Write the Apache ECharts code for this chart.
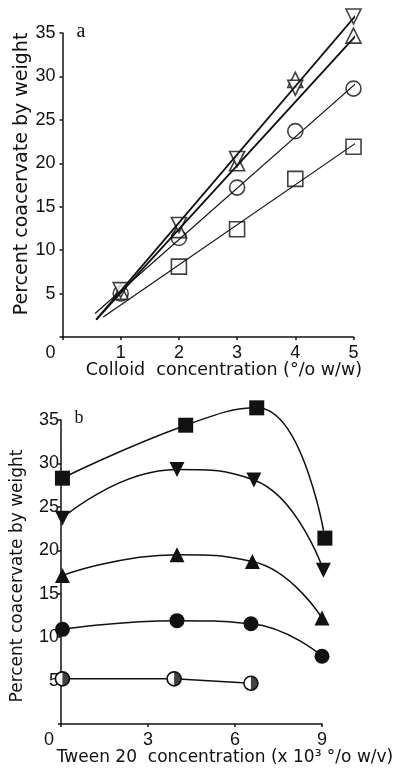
<!DOCTYPE html>
<html>
<head>
<meta charset="utf-8">
<script src="https://cdn.jsdelivr.net/npm/echarts@6/dist/echarts.min.js"></script>
<style>
  html, body { margin: 0; padding: 0; background: #fff; }
  #chart { width: 395px; height: 770px; }
</style>
</head>
<body>
<div id="chart"></div>
<script>
// --- panel a: colloid concentration (%w/w) vs percent coacervate ---
var colloidConc = [1, 2, 3, 4, 5];
var aDownTri = [5.4, 12.9, 20.5, 28.7, 36.9];
var aUpTri = [5.2, 12.3, 20.0, 29.6, 34.7];
var aCircle = [5.0, 11.4, 17.2, 23.7, 28.6];
var aSquare = [null, 8.1, 12.4, 18.2, 21.9];
// fitted straight lines, end points [x, y]
var fitDownTri = [[0.58, 2.0], [5.05, 37.1]];
var fitUpTri = [[0.58, 2.0], [5.11, 35.2]];
var fitCircle = [[0.56, 2.7], [5.23, 30.3]];
var fitSquare = [[0.70, 2.3], [5.25, 23.3]];

// --- panel b: Tween 20 concentration (x10^3 %w/v) ---
var bSquareX = [0.05, 4.3, 6.75, 9.1];
var bSquareY = [28.3, 34.4, 36.4, 21.4];
var bDownTriX = [0.05, 4.0, 6.65, 9.05];
var bDownTriY = [23.7, 29.3, 28.1, 17.7];
var bUpTriX = [0.05, 4.0, 6.6, 9.0];
var bUpTriY = [17.1, 19.5, 18.7, 12.2];
var bCircleX = [0.05, 4.0, 6.55, 9.0];
var bCircleY = [10.9, 11.9, 11.55, 7.8];
var bHalfX = [0.05, 3.9, 6.55];
var bHalfY = [5.2, 5.2, 4.7];

var ink = '#111';
var tickFont = 'Liberation Sans';

function pairs(xs, ys) {
  var out = [];
  for (var i = 0; i < xs.length; i++) {
    if (ys[i] != null) out.push([xs[i], ys[i]]);
  }
  return out;
}

function xAxisOf(grid, max, step) {
  return {
    type: 'value', gridIndex: grid, min: 0, max: max, interval: step,
    splitLine: { show: false },
    axisLine: { lineStyle: { color: ink, width: 1.5 } },
    axisTick: { length: 3, lineStyle: { color: ink, width: 1.5 } },
    axisLabel: {
      color: ink, fontFamily: tickFont, fontSize: 18, margin: 7,
      formatter: function (v) { return v === 0 ? '{o|0}' : String(v); },
      rich: { o: { padding: [0, 24, 0, 0], color: ink, fontFamily: tickFont, fontSize: 18 } }
    }
  };
}

function yAxisOf(grid, gap) {
  return {
    type: 'value', gridIndex: grid, min: 0, max: 35, interval: 5,
    splitLine: { show: false },
    axisLine: { lineStyle: { color: ink, width: 1.5 } },
    axisTick: { length: 3, lineStyle: { color: ink, width: 1.5 } },
    axisLabel: {
      color: ink, fontFamily: tickFont, fontSize: 18, margin: gap,
      formatter: function (v) { return v === 0 ? '' : String(v); }
    }
  };
}

function fitLine(data, w) {
  return {
    type: 'line', xAxisIndex: 0, yAxisIndex: 0, data: data,
    symbol: 'none', silent: true, clip: false,
    lineStyle: { color: ink, width: w }
  };
}

function openMarks(ys, sym, rot) {
  return {
    type: 'scatter', xAxisIndex: 0, yAxisIndex: 0, clip: false,
    data: pairs(colloidConc, ys),
    symbol: sym, symbolSize: 15, symbolRotate: rot || 0,
    itemStyle: { color: '#fff', borderColor: ink, borderWidth: 1.6 }
  };
}

function curve(xs, ys, sym, rot) {
  return {
    type: 'line', xAxisIndex: 1, yAxisIndex: 1, clip: false,
    data: pairs(xs, ys), smooth: 0.5,
    symbol: sym, symbolSize: 15, symbolRotate: rot || 0,
    itemStyle: { color: ink },
    lineStyle: { color: ink, width: 1.5 }
  };
}

var chart = echarts.init(document.getElementById('chart'));

var option = {
  animation: false,
  backgroundColor: '#fff',
  grid: [
    { left: 62.5, top: 33, width: 291, height: 304 },
    { left: 61, top: 420, width: 261, height: 304 }
  ],
  xAxis: [xAxisOf(0, 5, 1), xAxisOf(1, 9, 3)],
  yAxis: [yAxisOf(0, 7), yAxisOf(1, 2)],
  series: [
    fitLine(fitSquare, 1.2),
    fitLine(fitCircle, 1.2),
    fitLine(fitUpTri, 1.8),
    fitLine(fitDownTri, 1.8),
    openMarks(aSquare, 'rect'),
    openMarks(aCircle, 'circle'),
    openMarks(aUpTri, 'triangle'),
    openMarks(aDownTri, 'triangle', 180),

    curve(bSquareX, bSquareY, 'rect'),
    curve(bDownTriX, bDownTriY, 'triangle', 180),
    curve(bUpTriX, bUpTriY, 'triangle'),
    curve(bCircleX, bCircleY, 'circle'),
    {
      type: 'line', xAxisIndex: 1, yAxisIndex: 1, clip: false,
      data: pairs(bHalfX, bHalfY), smooth: false,
      symbol: 'circle', symbolSize: 14,
      itemStyle: { color: '#fff', borderColor: ink, borderWidth: 1.6 },
      lineStyle: { color: ink, width: 1.5 }
    },
    {
      // right half of the half-filled circles
      type: 'scatter', xAxisIndex: 1, yAxisIndex: 1, clip: false, z: 5,
      data: pairs(bHalfX, bHalfY),
      symbol: 'path://M0,0 C5.52,0 10,4.48 10,10 C10,15.52 5.52,20 0,20 Z',
      symbolKeepAspect: true, symbolSize: 14, symbolOffset: [3.5, 0],
      itemStyle: { color: ink }
    }
  ],
  graphic: [
    { type: 'text', x: 22, y: 174, rotation: Math.PI / 2,
      style: { text: 'Percent coacervate by weight', fontFamily: 'DejaVu Sans', fontSize: 19,
               fill: ink, align: 'center', verticalAlign: 'middle' } },
    { type: 'text', x: 224, y: 370,
      style: { text: 'Colloid  concentration (°/o w/w)', fontFamily: 'DejaVu Sans', fontSize: 17.5,
               fill: ink, align: 'center', verticalAlign: 'middle' } },
    { type: 'text', x: 81, y: 32,
      style: { text: 'a', fontFamily: 'Liberation Serif', fontSize: 20,
               fill: ink, align: 'center', verticalAlign: 'middle' } },
    { type: 'text', x: 18, y: 576, rotation: Math.PI / 2,
      style: { text: 'Percent coacervate by weight', fontFamily: 'DejaVu Sans', fontSize: 17,
               fill: ink, align: 'center', verticalAlign: 'middle' } },
    { type: 'text', x: 225, y: 758,
      style: { text: 'Tween 20  concentration (x 10³ °/o w/v)', fontFamily: 'DejaVu Sans', fontSize: 17,
               fill: ink, align: 'center', verticalAlign: 'middle' } },
    { type: 'text', x: 79, y: 418,
      style: { text: 'b', fontFamily: 'Liberation Serif', fontSize: 18,
               fill: ink, align: 'center', verticalAlign: 'middle' } }
  ]
};

chart.setOption(option);
</script>
</body>
</html>
